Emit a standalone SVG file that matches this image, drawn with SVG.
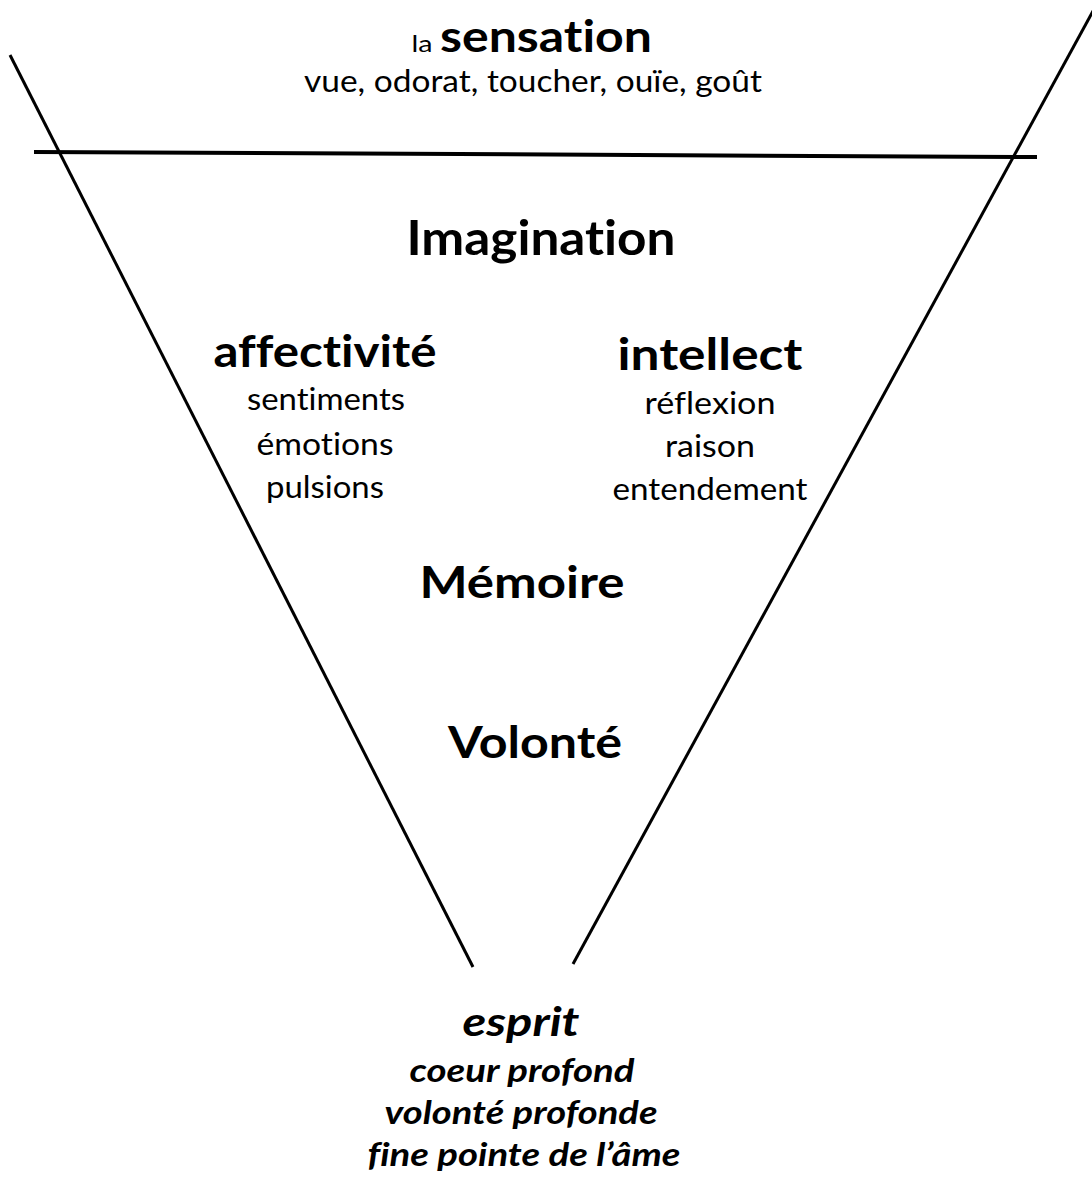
<svg xmlns="http://www.w3.org/2000/svg" width="1092" height="1178" viewBox="0 0 1092 1178">
<style>
text{font-family:Lato,"Open Sans","Liberation Sans",sans-serif;fill:#000;text-anchor:middle;font-variant-ligatures:none;font-feature-settings:"liga" 0}
.b{font-weight:700}
.r{font-weight:400;font-size:30px}
.h{font-weight:700;font-size:43px}
.i{font-weight:700;font-style:italic}
.ln{stroke:#000;fill:none;stroke-linecap:butt}
</style>
<rect width="1092" height="1178" fill="#fff"/>
<g id="connectors">
<line class="ln" x1="10" y1="55" x2="473" y2="967" stroke-width="3"/>
<line class="ln" x1="1099" y1="0" x2="573" y2="964" stroke-width="3"/>
<line class="ln" x1="34" y1="152" x2="1037" y2="157" stroke-width="4"/>
</g>
<g id="sensation">
<text x="422" y="52" font-size="24" textLength="21" lengthAdjust="spacingAndGlyphs">la</text>
<text class="b" x="546" y="52" font-size="43" textLength="212" lengthAdjust="spacingAndGlyphs">sensation</text>
<text class="r" x="533" y="92" textLength="458" lengthAdjust="spacingAndGlyphs">vue, odorat, toucher, ouïe, goût</text>
</g>
<g id="imagination"><text class="b" x="541" y="255" font-size="48" textLength="269" lengthAdjust="spacingAndGlyphs">Imagination</text></g>
<g id="affectivite">
<text class="h" x="325" y="367" textLength="223" lengthAdjust="spacingAndGlyphs">affectivité</text>
<text class="r" x="326" y="410" textLength="158" lengthAdjust="spacingAndGlyphs">sentiments</text>
<text class="r" x="325" y="455" textLength="137" lengthAdjust="spacingAndGlyphs">émotions</text>
<text class="r" x="325" y="498" textLength="118" lengthAdjust="spacingAndGlyphs">pulsions</text>
</g>
<g id="intellect">
<text class="h" x="710" y="370" textLength="185" lengthAdjust="spacingAndGlyphs">intellect</text>
<text class="r" x="710" y="414" textLength="131" lengthAdjust="spacingAndGlyphs">réflexion</text>
<text class="r" x="710" y="457" textLength="90" lengthAdjust="spacingAndGlyphs">raison</text>
<text class="r" x="710" y="500" textLength="195" lengthAdjust="spacingAndGlyphs">entendement</text>
</g>
<g id="memoire"><text class="h" x="522" y="598" textLength="205" lengthAdjust="spacingAndGlyphs">Mémoire</text></g>
<g id="volonte"><text class="h" x="535" y="758" textLength="174" lengthAdjust="spacingAndGlyphs">Volonté</text></g>
<g id="esprit">
<text class="i" x="521" y="1036" font-size="40" textLength="117" lengthAdjust="spacingAndGlyphs">esprit</text>
<text class="i" x="522" y="1082" font-size="32" textLength="225" lengthAdjust="spacingAndGlyphs">coeur profond</text>
<text class="i" x="521" y="1124" font-size="32" textLength="273" lengthAdjust="spacingAndGlyphs">volonté profonde</text>
<text class="i" x="524" y="1166" font-size="32" textLength="313" lengthAdjust="spacingAndGlyphs">fine pointe de l’âme</text>
</g>
</svg>
